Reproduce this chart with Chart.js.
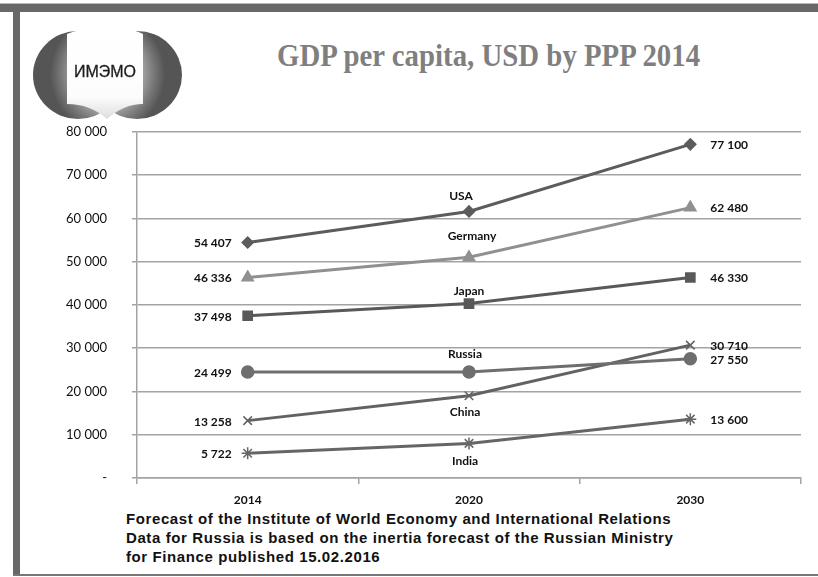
<!DOCTYPE html>
<html>
<head>
<meta charset="utf-8">
<script src="https://cdn.jsdelivr.net/npm/chart.js@4.4.1/dist/chart.umd.min.js"></script>
<style>
  body { margin: 0; width: 818px; height: 577px; position: relative; background: #fff; overflow: hidden; }
  #topbar { position: absolute; left: 0; top: 3px; width: 818px; height: 1px; background: #bbb; }
  #topbar2 { position: absolute; left: 0; top: 4px; width: 818px; height: 8px; background: #686868; }
  #leftbar { position: absolute; left: 13px; top: 12px; width: 7px; height: 564px; background: #686868; }
  #bottombar { position: absolute; left: 13px; top: 574px; width: 805px; height: 2px; background: #777; }
  #logo { position: absolute; left: 28px; top: 22px; }
  #logoText { position: absolute; left: 60px; top: 63px; width: 90px; text-align: center;
    font: 16px "Liberation Sans", Arial, sans-serif; color: #1c1c1c; -webkit-text-stroke: 0.3px #1c1c1c; }
  #title { position: absolute; left: 277px; top: 38px; white-space: nowrap; line-height: 31px;
    font: bold 31px "Liberation Serif", "Times New Roman", serif; color: #7f7f7f;
    transform: scaleX(0.93); transform-origin: left top; }
  #footer { position: absolute; left: 126px; top: 509px; white-space: nowrap; letter-spacing: 0.6px;
    font: bold 15px "Liberation Sans", Arial, sans-serif; line-height: 19px; color: #111; }
  #wrap { position: absolute; left: 20px; top: 99px; width: 798px; height: 421px; }
</style>
</head>
<body>
<div id="topbar"></div>
<div id="topbar2"></div>
<div id="leftbar"></div>
<div id="bottombar"></div>
<canvas id="logo" width="165" height="105"></canvas>
<div id="logoText">ИМЭМО</div>
<div id="title">GDP per capita, USD by PPP 2014</div>
<div id="footer">Forecast of the Institute of World Economy and International Relations<br>Data for Russia is based on the inertia forecast of the Russian Ministry<br>for Finance published 15.02.2016</div>
<div id="wrap"><canvas id="gdpChart"></canvas></div>
<script>
// data
const years = ['2014', '2020', '2030'];
const countries = ['USA', 'Germany', 'Japan', 'Russia', 'China', 'India'];
const usa = [54407, 61600, 77100];
const germany = [46336, 51000, 62480];
const japan = [37498, 40300, 46330];
const russia = [24499, 24500, 27550];
const china = [13258, 19000, 30710];
const india = [5722, 8000, 13600];
const yTicks = [0, 10000, 20000, 30000, 40000, 50000, 60000, 70000, 80000];

const fmt = v => v === 0 ? '-' : String(v).replace(/\B(?=(\d{3})+(?!\d))/g, ' ');

// logo: two grey spheres with a white open book in the middle
(function drawLogo() {
    const c = document.getElementById('logo').getContext('2d');
    c.save();
    c.translate(-28, -22);
    const lobe = (cx, lightX) => {
        const g = c.createRadialGradient(lightX, 70, 4, lightX, 74, 62);
        g.addColorStop(0, '#ffffff');
        g.addColorStop(0.45, '#c4c4c4');
        g.addColorStop(0.8, '#7a7a7a');
        g.addColorStop(1, '#555555');
        c.fillStyle = g;
        c.beginPath();
        c.ellipse(cx, 75, 45, 44, 0, 0, Math.PI * 2);
        c.fill();
    };
    lobe(78, 112);
    lobe(137, 103);
    // book
    const b = c.createLinearGradient(0, 28, 0, 120);
    b.addColorStop(0, '#ffffff');
    b.addColorStop(0.75, '#fcfcfc');
    b.addColorStop(1, '#dcdcdc');
    c.fillStyle = b;
    c.beginPath();
    c.moveTo(67, 34);
    c.quadraticCurveTo(88, 25, 107, 33);
    c.quadraticCurveTo(126, 25, 143, 34);
    c.lineTo(143, 104);
    c.quadraticCurveTo(124, 104, 107, 119);
    c.quadraticCurveTo(90, 104, 67, 104);
    c.closePath();
    c.fill();
    c.restore();
})();

const styles = [
    { color: '#5c5c5c', point: 'rectRot', r: 5.5 },
    { color: '#909090', point: 'triangle', r: 6.5 },
    { color: '#595959', point: 'rect', r: 6.5 },
    { color: '#6e6e6e', point: 'circle', r: 6 },
    { color: '#626262', point: 'crossRot', r: 6 },
    { color: '#666666', point: 'star', r: 6 }
];
// where the series name sits around the 2020 point
const nameOffsets = [[-8, -15], [3, -21], [0, -12], [-4, -18], [-4, 16], [-4, 18]];

const series = [usa, germany, japan, russia, china, india];

const labelPlugin = {
    id: 'labels',
    afterDatasetsDraw(chart) {
        const ctx = chart.ctx;
        ctx.save();
        ctx.fillStyle = '#111';
        ctx.font = 'bold 12px Lato';
        ctx.textBaseline = 'middle';
        chart.data.datasets.forEach((ds, i) => {
            const pts = chart.getDatasetMeta(i).data;
            ctx.textAlign = 'right';
            ctx.fillText(fmt(ds.data[0]), pts[0].x - 16, pts[0].y + 1);
            ctx.textAlign = 'left';
            ctx.fillText(fmt(ds.data[2]), pts[2].x + 20, pts[2].y + 1);
            ctx.textAlign = 'center';
            ctx.fillText(ds.label, pts[1].x + nameOffsets[i][0], pts[1].y + nameOffsets[i][1]);
        });
        ctx.restore();
    }
};

new Chart(document.getElementById('gdpChart'), {
    type: 'line',
    data: {
        labels: years,
        datasets: series.map((d, i) => ({
            label: countries[i],
            data: d,
            borderColor: styles[i].color,
            backgroundColor: styles[i].color,
            borderWidth: 3,
            pointStyle: styles[i].point,
            pointRadius: styles[i].r,
            pointBorderWidth: 1.5,
            tension: 0
        }))
    },
    options: {
        responsive: true,
        maintainAspectRatio: false,
        animation: false,
        layout: { padding: { top: 0, right: 17, left: 0, bottom: 0 } },
        plugins: { legend: { display: false }, tooltip: { enabled: false } },
        scales: {
            x: {
                offset: true,
                afterFit: s => { s.height = 42; },
                grid: { offset: true, drawOnChartArea: false, drawTicks: true, tickLength: 6, color: '#a3a3a3', lineWidth: 1.5 },
                border: { color: '#a3a3a3', width: 1.5 },
                ticks: { padding: 9, color: '#111', font: { family: 'Lato', size: 12, weight: 'bold' } }
            },
            y: {
                min: 0,
                max: 80000,
                afterFit: s => { s.width = 117; },
                afterBuildTicks: s => { s.ticks = yTicks.map(v => ({ value: v })); },
                grid: { color: '#a3a3a3', lineWidth: 1.5, tickLength: 5 },
                border: { color: '#a3a3a3', width: 1.5 },
                ticks: { padding: 25, color: '#111', callback: v => fmt(v), font: { family: 'Lato', size: 13 } }
            }
        }
    },
    plugins: [labelPlugin]
});
</script>
</body>
</html>
